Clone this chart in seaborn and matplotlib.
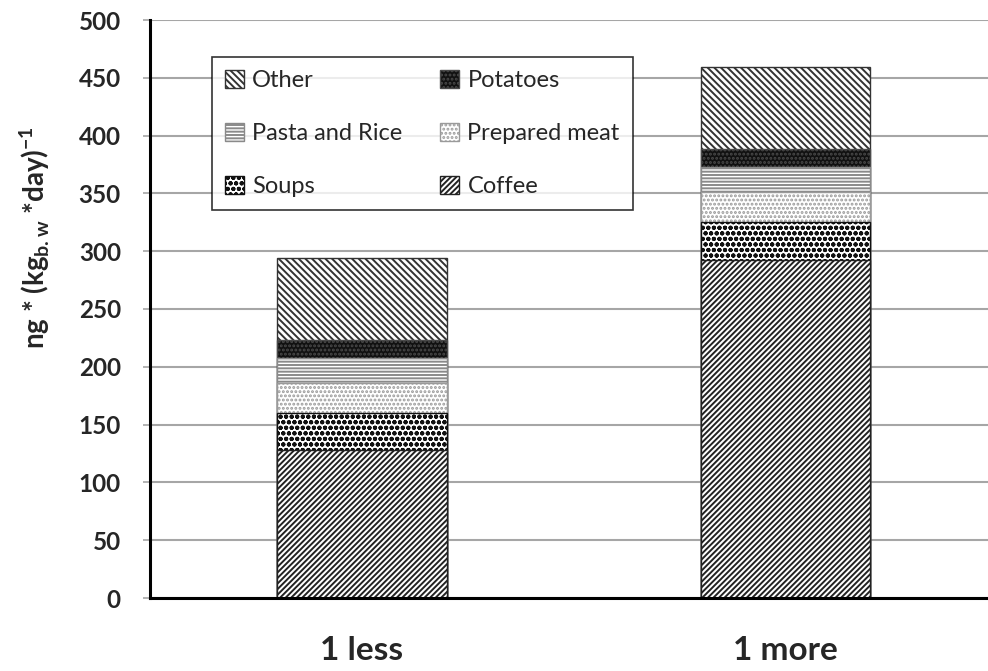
import matplotlib
matplotlib.use("Agg")
import matplotlib.pyplot as plt
import seaborn as sns
import numpy as np

groups = ["1 less", "1 more"]
coffee = [128, 292]
soups = [32, 33]
prepared_meat = [26, 26]
pasta_rice = [22, 22]
potatoes = [15, 15]
other = [71, 71]

layers = [
    ("Coffee", coffee),
    ("Soups", soups),
    ("Prepared meat", prepared_meat),
    ("Pasta and Rice", pasta_rice),
    ("Potatoes", potatoes),
    ("Other", other),
]

styles = {
    "Coffee": dict(color="white", edgecolor="#222222", hatch="//////"),
    "Soups": dict(color="white", edgecolor="#111111", hatch="ooo"),
    "Prepared meat": dict(color="white", edgecolor="#9a9a9a", hatch="...."),
    "Pasta and Rice": dict(color="white", edgecolor="#8a8a8a", hatch="-----"),
    "Potatoes": dict(color="#111111", edgecolor="#4a4a4a", hatch="...."),
    "Other": dict(color="white", edgecolor="#333333", hatch="\\\\\\\\\\"),
}

sns.set_theme(style="white")
plt.rcParams["font.family"] = ["Lato", "DejaVu Sans"]
plt.rcParams["mathtext.fontset"] = "custom"
plt.rcParams["mathtext.rm"] = "Lato"
plt.rcParams["mathtext.bf"] = "Lato:bold"
plt.rcParams["hatch.linewidth"] = 1.4

fig = plt.figure(figsize=(9.88, 6.71), dpi=100)
ax = fig.add_axes([150 / 988, (671 - 598) / 671, 839 / 988, 578 / 671])

cum = np.cumsum([np.array(v, dtype=float) for _, v in layers], axis=0)
handles = {}
for i in range(len(layers) - 1, -1, -1):
    name = layers[i][0]
    st = styles[name]
    before = len(ax.patches)
    sns.barplot(x=groups, y=cum[i], width=0.4, color=st["color"], saturation=1,
                edgecolor=st["edgecolor"], hatch=st["hatch"], linewidth=1.0,
                label=name, ax=ax, zorder=3)
    handles[name] = ax.patches[before]

ax.set_xlim(-0.5, 1.48)
ax.set_ylim(0, 500)
ax.set_yticks(np.arange(0, 501, 50))
ax.yaxis.grid(True, color="#a6a6a6", linewidth=1.5, zorder=0)
ax.set_axisbelow(True)
for s in ["top", "right"]:
    ax.spines[s].set_visible(False)
for s in ["left", "bottom"]:
    ax.spines[s].set_color("black")
    ax.spines[s].set_linewidth(2.2)
    ax.spines[s].set_zorder(5)

ax.tick_params(axis="y", which="both", left=True, length=5, width=1.2,
               color="#a6a6a6", pad=16, labelsize=17.5)
ax.tick_params(axis="x", length=0, pad=27, labelsize=24)
for lab in ax.get_yticklabels() + ax.get_xticklabels():
    lab.set_fontweight("bold")

ax.set_xlabel("")
ax.set_ylabel(r"ng * (kg$_{\mathbf{b.w}}$ *day)$^{\mathbf{-1}}$",
              fontsize=20, fontweight="bold")
ax.yaxis.set_label_coords(-0.117, 0.623)

order = ["Other", "Pasta and Rice", "Soups", "Potatoes", "Prepared meat", "Coffee"]
leg = ax.legend([handles[n] for n in order], order, ncol=2, loc="upper left",
                bbox_to_anchor=(0.074, 0.936), borderaxespad=0, fontsize=17,
                frameon=True, fancybox=False, edgecolor="black",
                handlelength=0.8, handleheight=0.8, handletextpad=0.35,
                labelspacing=1.35, columnspacing=1.6, borderpad=0.55)
leg.get_frame().set_linewidth(1.2)
leg.set_zorder(10)

fig.savefig("out.png", dpi=100)
